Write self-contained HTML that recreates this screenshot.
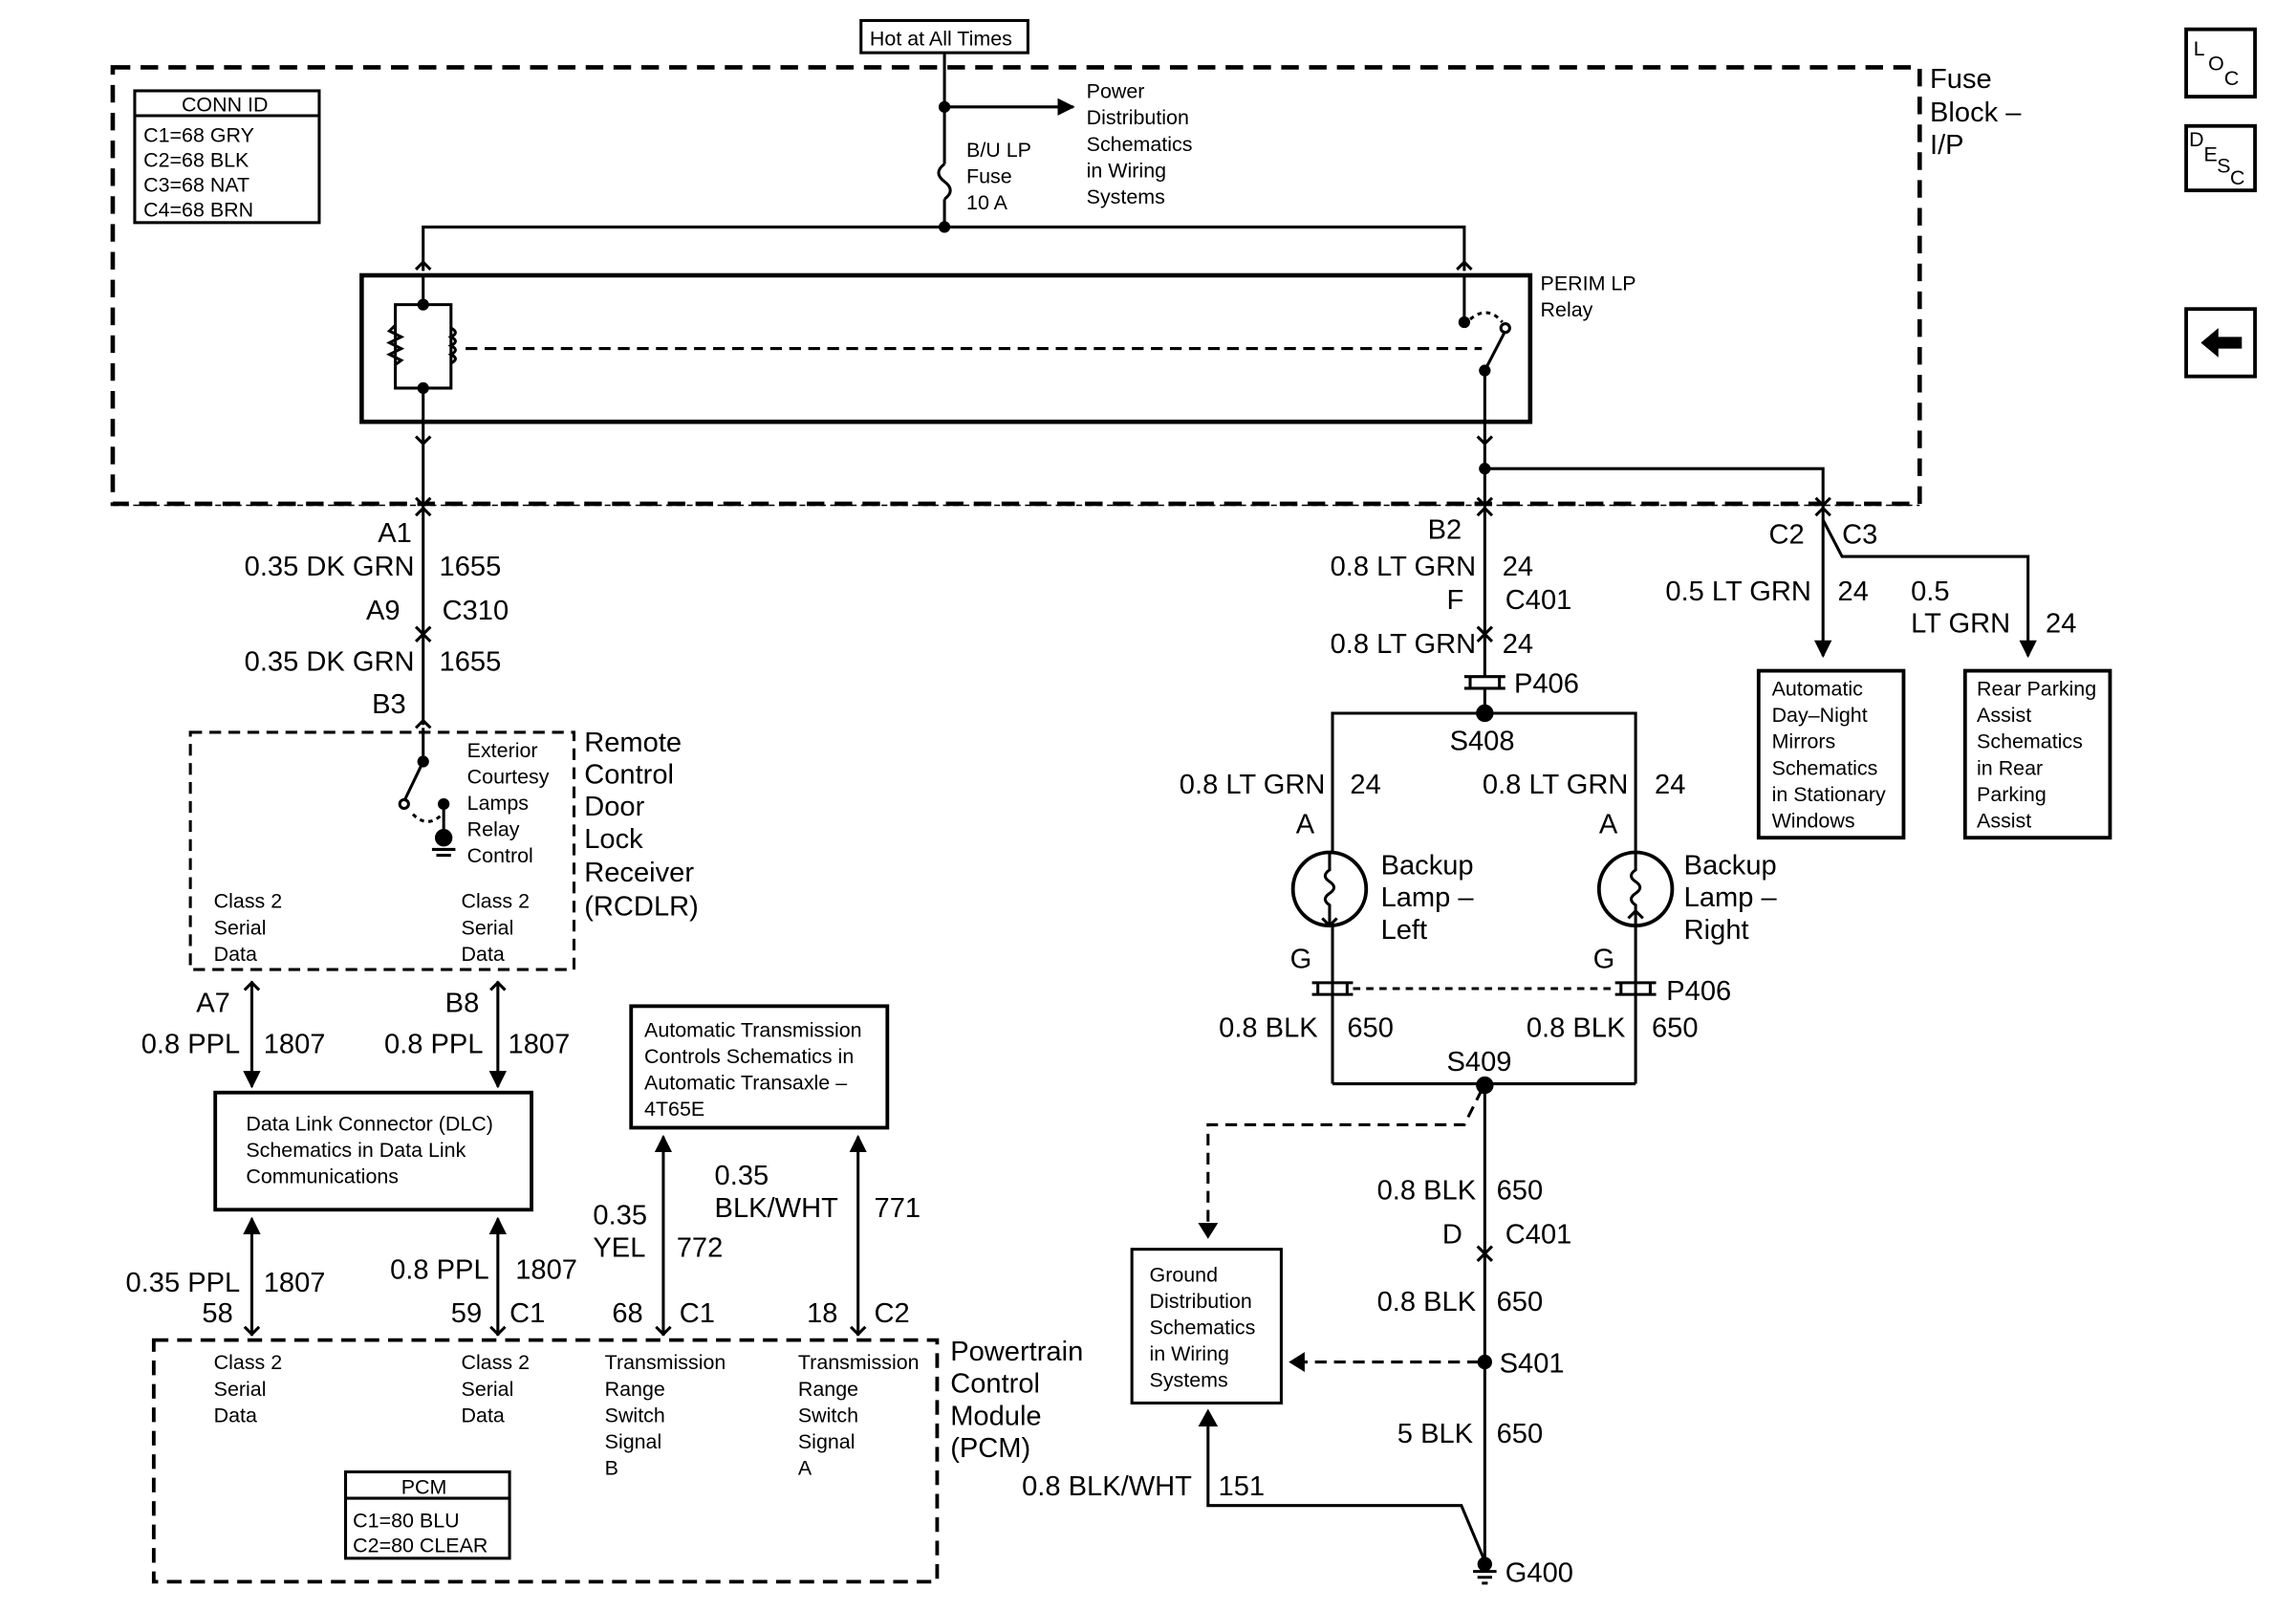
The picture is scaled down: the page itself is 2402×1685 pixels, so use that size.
<!DOCTYPE html>
<html><head><meta charset="utf-8"><style>
html,body{margin:0;padding:0;background:#fff;}
svg{display:block;}
text{font-family:"Liberation Sans",Arial,sans-serif;fill:#000;}
.s{font-size:14px;}
.l{font-size:19px;}
.m{font-size:19px;}
</style></head><body>
<svg width="2402" height="1685" viewBox="0 0 1568 1100" preserveAspectRatio="none" xmlns="http://www.w3.org/2000/svg" fill="none" stroke="#000" stroke-width="2">
<defs>
<marker id="ad" viewBox="0 0 10 10" refX="9" refY="5" markerWidth="6" markerHeight="6" orient="auto"><path d="M0,0L10,5L0,10z" fill="#000" stroke="none"/></marker>
</defs>
<rect x="588" y="14" width="114" height="22" stroke-width="2"/>
<text x="594" y="31" class="s" stroke="none">Hot at All Times</text>
<rect x="77" y="46" width="1234" height="298" stroke-width="3" stroke-dasharray="12,7"/>
<text class="l" stroke="none" x="1318" y="60">Fuse</text>
<text class="l" stroke="none" x="1318" y="83">Block –</text>
<text class="l" stroke="none" x="1318" y="105">I/P</text>
<rect x="92" y="62" width="126" height="90"/>
<line x1="92" y1="79" x2="218" y2="79"/>
<g class="s" stroke="none"><text x="124" y="76">CONN ID</text><text x="98" y="97">C1=68 GRY</text><text x="98" y="114">C2=68 BLK</text><text x="98" y="131">C3=68 NAT</text><text x="98" y="148">C4=68 BRN</text></g>
<line x1="645" y1="36" x2="645" y2="112"/>
<path d="M645,112 q-8,6 0,12 q8,6 0,12"/>
<line x1="645" y1="136" x2="645" y2="155"/>
<circle cx="645" cy="73" r="3" fill="#000"/>
<line x1="645" y1="73" x2="733" y2="73" marker-end="url(#ad)"/>
<g class="s" stroke="none"><text x="660" y="107">B/U LP</text><text x="660" y="125">Fuse</text><text x="660" y="143">10 A</text>
<text x="742" y="67">Power</text><text x="742" y="85">Distribution</text><text x="742" y="103">Schematics</text><text x="742" y="121">in Wiring</text><text x="742" y="139">Systems</text></g>
<circle cx="645" cy="155" r="3" fill="#000"/>
<path d="M289,185 V155 H1000 V185"/>
<path d="M284,184 l5,-5 l5,5 M995,184 l5,-5 l5,5"/>
<rect x="247" y="188" width="798" height="100" stroke-width="3"/>
<text class="s" stroke="none" x="1052" y="198">PERIM LP</text>
<text class="s" stroke="none" x="1052" y="216">Relay</text>
<line x1="289" y1="188" x2="289" y2="208"/><line x1="289" y1="265" x2="289" y2="288"/>
<path d="M270,208 H308 V265 H270 Z"/>
<path d="M270,222 l-4,4 l8,4 l-8,4 l8,4 l-8,4 l8,4 l-4,3" />
<path d="M308,224 q6,3 0,6 q6,3 0,6 q6,3 0,6 q6,3 0,6"/>
<circle cx="289" cy="208" r="3" fill="#000"/><circle cx="289" cy="265" r="3" fill="#000"/>
<line x1="318" y1="238" x2="1012" y2="238" stroke-dasharray="8,5"/>
<line x1="1000" y1="188" x2="1000" y2="220"/><circle cx="1000" cy="220" r="3" fill="#000"/>
<line x1="1014" y1="253" x2="1014" y2="288"/><circle cx="1014" cy="253" r="3" fill="#000"/>
<line x1="1014" y1="253" x2="1028" y2="226"/><circle cx="1028" cy="224" r="3"/>
<path d="M1004,218 q12,-10 22,2" stroke-dasharray="3,3"/>
<line x1="289" y1="288" x2="289" y2="495"/>
<line x1="1014" y1="288" x2="1014" y2="462"/>
<path d="M284,298 l5,5 l5,-5 M1009,298 l5,5 l5,-5"/>
<path d="M284,340 l5,5 l5,-5 M284,352 l5,-5 l5,5 M1009,340 l5,5 l5,-5 M1009,352 l5,-5 l5,5"/>
<line x1="77" y1="345" x2="1311" y2="345" stroke-width="1" stroke-dasharray="4,3"/>
<circle cx="1014" cy="320" r="3" fill="#000"/>
<path d="M1014,320 H1245 V448" marker-end="url(#ad)"/>
<path d="M1240,340 l5,5 l5,-5 M1240,352 l5,-5 l5,5"/>
<path d="M1245,355 L1258,380 H1385 V448" marker-end="url(#ad)"/>
<g class="m" stroke="none">
<text x="258" y="370">A1</text><text x="283" y="393" text-anchor="end">0.35 DK GRN</text><text x="300" y="393">1655</text>
<text x="250" y="423">A9</text><text x="302" y="423">C310</text>
<text x="283" y="458" text-anchor="end">0.35 DK GRN</text><text x="300" y="458">1655</text>
<text x="254" y="487">B3</text>
<text x="975" y="368">B2</text><text x="1008" y="393" text-anchor="end">0.8 LT GRN</text><text x="1026" y="393">24</text>
<text x="988" y="416">F</text><text x="1028" y="416">C401</text>
<text x="1008" y="446" text-anchor="end">0.8 LT GRN</text><text x="1026" y="446">24</text>
<text x="1034" y="473">P406</text><text x="990" y="512">S408</text>
<text x="1208" y="371">C2</text><text x="1258" y="371">C3</text>
<text x="1237" y="410" text-anchor="end">0.5 LT GRN</text><text x="1255" y="410">24</text>
<text x="1305" y="410">0.5</text><text x="1305" y="432">LT GRN</text><text x="1397" y="432">24</text>
</g>
<path d="M284,428 l5,5 l5,-5 M284,438 l5,-5 l5,5 M1009,428 l5,5 l5,-5 M1009,438 l5,-5 l5,5"/>
<path d="M284,497 l5,-5 l5,5"/>
<path d="M1000,462 H1028 M1000,470 H1028 M1004,462 V470 M1024,462 V470"/>
<line x1="1014" y1="470" x2="1014" y2="487"/>
<circle cx="1014" cy="487" r="5" fill="#000"/>
<path d="M910,582 V487 H1117 V582"/>
<g class="m" stroke="none">
<text x="905" y="542" text-anchor="end">0.8 LT GRN</text><text x="922" y="542">24</text>
<text x="1112" y="542" text-anchor="end">0.8 LT GRN</text><text x="1130" y="542">24</text>
<text x="885" y="569">A</text><text x="1092" y="569">A</text>
<text x="943" y="597">Backup</text><text x="943" y="619">Lamp –</text><text x="943" y="641">Left</text>
<text x="1150" y="597">Backup</text><text x="1150" y="619">Lamp –</text><text x="1150" y="641">Right</text>
<text x="881" y="661">G</text><text x="1088" y="661">G</text><text x="1138" y="683">P406</text>
<text x="900" y="708" text-anchor="end">0.8 BLK</text><text x="920" y="708">650</text>
<text x="1110" y="708" text-anchor="end">0.8 BLK</text><text x="1128" y="708">650</text>
<text x="988" y="731">S409</text>
</g>
<circle cx="908" cy="607" r="25" stroke-width="2.5"/><circle cx="1117" cy="607" r="25" stroke-width="2.5"/>
<path d="M908,582 v12 q-6,4 0,8 q6,4 0,8 q-6,4 0,8 v14 M1117,582 v12 q-6,4 0,8 q6,4 0,8 q-6,4 0,8 v14"/>
<path d="M903,627 l5,5 l5,-5 M1112,627 l5,-5 l5,5"/>
<path d="M910,632 V740 M1117,632 V740 M910,740 H1117"/>
<path d="M896,671 H924 M896,679 H924 M900,671 V679 M920,671 V679 M1103,671 H1131 M1103,679 H1131 M1107,671 V679 M1127,671 V679"/>
<line x1="924" y1="675" x2="1103" y2="675" stroke-dasharray="5,4"/>
<circle cx="1014" cy="741" r="5" fill="#000"/>
<line x1="1014" y1="741" x2="1014" y2="1068"/>
<path d="M1012,744 L1000,768 H825 V842" stroke-dasharray="8,5"/>
<path d="M820,836 l5,8 l5,-8z" fill="#000"/>
<g class="m" stroke="none">
<text x="1008" y="819" text-anchor="end">0.8 BLK</text><text x="1022" y="819">650</text>
<text x="985" y="849">D</text><text x="1028" y="849">C401</text>
<text x="1008" y="895" text-anchor="end">0.8 BLK</text><text x="1022" y="895">650</text>
<text x="1024" y="937">S401</text>
<text x="1006" y="985" text-anchor="end">5 BLK</text><text x="1022" y="985">650</text>
<text x="1028" y="1080">G400</text>
<text x="814" y="1021" text-anchor="end">0.8 BLK/WHT</text><text x="832" y="1021">151</text>
</g>
<path d="M1009,851 l5,5 l5,-5 M1009,861 l5,-5 l5,5"/>
<circle cx="1014" cy="930" r="4" fill="#000"/>
<line x1="1010" y1="930" x2="890" y2="930" stroke-dasharray="8,5"/>
<path d="M890,925 l-8,5 l8,5z" fill="#000"/>
<rect x="773" y="853" width="102" height="105"/>
<g class="s" stroke="none"><text x="785" y="875">Ground</text><text x="785" y="893">Distribution</text><text x="785" y="911">Schematics</text><text x="785" y="929">in Wiring</text><text x="785" y="947">Systems</text></g>
<path d="M825,972 V1028 H998 L1014,1066"/>
<path d="M820,973 l5,-9 l5,9z" fill="#000"/>
<circle cx="1014" cy="1068" r="4" fill="#000"/>
<path d="M1006,1073 H1022 M1009,1077 H1019 M1012,1081 H1016"/>
<rect x="1201" y="458" width="99" height="114" stroke-width="2.5"/>
<g class="s" stroke="none"><text x="1210" y="475">Automatic</text><text x="1210" y="493">Day–Night</text><text x="1210" y="511">Mirrors</text><text x="1210" y="529">Schematics</text><text x="1210" y="547">in Stationary</text><text x="1210" y="565">Windows</text></g>
<rect x="1342" y="458" width="99" height="114" stroke-width="2.5"/>
<g class="s" stroke="none"><text x="1350" y="475">Rear Parking</text><text x="1350" y="493">Assist</text><text x="1350" y="511">Schematics</text><text x="1350" y="529">in Rear</text><text x="1350" y="547">Parking</text><text x="1350" y="565">Assist</text></g>
<rect x="130" y="500" width="262" height="162" stroke-dasharray="8,5"/>
<line x1="289" y1="497" x2="289" y2="520"/><circle cx="289" cy="520" r="3" fill="#000"/>
<line x1="289" y1="520" x2="276" y2="547"/><circle cx="276" cy="549" r="3"/>
<circle cx="303" cy="549" r="3" fill="#000"/><line x1="303" y1="549" x2="303" y2="568"/>
<circle cx="303" cy="572" r="5" fill="#000"/><path d="M295,580 H311 M298,584 H308"/>
<path d="M282,556 q10,10 20,0" stroke-dasharray="3,3"/>
<g class="s" stroke="none"><text x="319" y="517">Exterior</text><text x="319" y="535">Courtesy</text><text x="319" y="553">Lamps</text><text x="319" y="571">Relay</text><text x="319" y="589">Control</text>
<text x="146" y="620">Class 2</text><text x="146" y="638">Serial</text><text x="146" y="656">Data</text>
<text x="315" y="620">Class 2</text><text x="315" y="638">Serial</text><text x="315" y="656">Data</text></g>
<g class="l" stroke="none"><text x="399" y="513">Remote</text><text x="399" y="535">Control</text><text x="399" y="557">Door</text><text x="399" y="579">Lock</text><text x="399" y="602">Receiver</text><text x="399" y="625">(RCDLR)</text></g>
<line x1="172" y1="670" x2="172" y2="742" marker-end="url(#ad)"/>
<line x1="340" y1="670" x2="340" y2="742" marker-end="url(#ad)"/>
<path d="M167,676 l5,-5 l5,5 M335,676 l5,-5 l5,5"/>
<g class="m" stroke="none">
<text x="134" y="691">A7</text><text x="304" y="691">B8</text>
<text x="164" y="719" text-anchor="end">0.8 PPL</text><text x="180" y="719">1807</text>
<text x="330" y="719" text-anchor="end">0.8 PPL</text><text x="347" y="719">1807</text>
<text x="164" y="882" text-anchor="end">0.35 PPL</text><text x="180" y="882">1807</text>
<text x="138" y="903">58</text>
<text x="334" y="873" text-anchor="end">0.8 PPL</text><text x="352" y="873">1807</text>
<text x="308" y="903">59</text><text x="348" y="903">C1</text>
<text x="418" y="903">68</text><text x="464" y="903">C1</text>
<text x="551" y="903">18</text><text x="597" y="903">C2</text>
<text x="405" y="836">0.35</text><text x="405" y="858">YEL</text><text x="462" y="858">772</text>
<text x="488" y="809">0.35</text><text x="488" y="831">BLK/WHT</text><text x="597" y="831">771</text>
</g>
<rect x="147" y="746" width="216" height="80" stroke-width="2.5"/>
<g class="s" stroke="none"><text x="168" y="772">Data Link Connector (DLC)</text><text x="168" y="790">Schematics in Data Link</text><text x="168" y="808">Communications</text></g>
<line x1="172" y1="912" x2="172" y2="832" marker-end="url(#ad)"/>
<line x1="340" y1="912" x2="340" y2="832" marker-end="url(#ad)"/>
<line x1="453" y1="912" x2="453" y2="776" marker-end="url(#ad)"/>
<line x1="586" y1="912" x2="586" y2="776" marker-end="url(#ad)"/>
<path d="M335,906 l5,5 l5,-5 M448,906 l5,5 l5,-5 M581,906 l5,5 l5,-5 M167,906 l5,5 l5,-5"/>
<rect x="431" y="687" width="175" height="83" stroke-width="2.5"/>
<g class="s" stroke="none"><text x="440" y="708">Automatic Transmission</text><text x="440" y="726">Controls Schematics in</text><text x="440" y="744">Automatic Transaxle –</text><text x="440" y="762">4T65E</text></g>
<rect x="105" y="915" width="535" height="165" stroke-width="2.5" stroke-dasharray="10,6"/>
<g class="s" stroke="none">
<text x="146" y="935">Class 2</text><text x="146" y="953">Serial</text><text x="146" y="971">Data</text>
<text x="315" y="935">Class 2</text><text x="315" y="953">Serial</text><text x="315" y="971">Data</text>
<text x="413" y="935">Transmission</text><text x="413" y="953">Range</text><text x="413" y="971">Switch</text><text x="413" y="989">Signal</text><text x="413" y="1007">B</text>
<text x="545" y="935">Transmission</text><text x="545" y="953">Range</text><text x="545" y="971">Switch</text><text x="545" y="989">Signal</text><text x="545" y="1007">A</text>
<text x="274" y="1020">PCM</text><text x="241" y="1043">C1=80 BLU</text><text x="241" y="1060">C2=80 CLEAR</text>
</g>
<rect x="236" y="1005" width="112" height="59"/>
<line x1="236" y1="1023" x2="348" y2="1023"/>
<g class="l" stroke="none"><text x="649" y="929">Powertrain</text><text x="649" y="951">Control</text><text x="649" y="973">Module</text><text x="649" y="995">(PCM)</text></g>
<rect x="1493" y="20" width="47" height="46" stroke-width="2.5"/>
<g class="s" stroke="none"><text x="1498" y="38">L</text><text x="1508" y="48">O</text><text x="1519" y="58">C</text></g>
<rect x="1493" y="86" width="47" height="44" stroke-width="2.5"/>
<g class="s" stroke="none"><text x="1495" y="100">D</text><text x="1505" y="110">E</text><text x="1514" y="118">S</text><text x="1523" y="126">C</text></g>
<rect x="1493" y="211" width="47" height="46" stroke-width="2.5"/>
<path d="M1503,234 l12,-10 v6 h16 v8 h-16 v6 z" fill="#000" stroke="none"/>
</svg>
</body></html>
